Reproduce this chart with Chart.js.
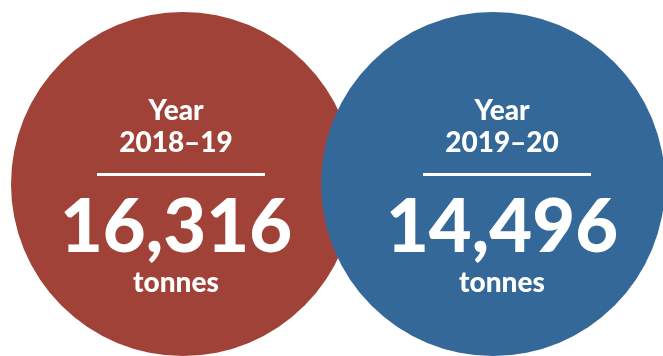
<!DOCTYPE html>
<html><head><meta charset="utf-8">
<script src="https://cdn.jsdelivr.net/npm/chart.js@4.4.1/dist/chart.umd.min.js"></script>
<style>html,body{margin:0;padding:0;background:#fff;overflow:hidden}#wrap{width:663px;height:356px;position:relative}</style>
</head><body><div id="wrap"><canvas id="c"></canvas></div>
<script>
// ---- data ----
const categories = ['Year 2018–19', 'Year 2019–20'];
const headLabels = ['Year', 'Year'];
const yearLabels = ['2018–19', '2019–20'];
const tonnes = [16316, 14496];
const unitLabels = ['tonnes', 'tonnes'];
const colors = ['#A04237', '#346898'];

const FONT = 'Lato, "Open Sans", sans-serif';
const textShift = [-7, 9];

const labelPlugin = {
  id: 'circleLabels',
  afterDatasetsDraw(chart) {
    const ctx = chart.ctx;
    chart.data.datasets.forEach((ds, i) => {
      const el = chart.getDatasetMeta(i).data[0];
      if (!el) return;
      const cx = el.x + textShift[i];
      const cy = el.y;
      ctx.save();
      ctx.fillStyle = '#ffffff';
      ctx.textAlign = 'center';
      ctx.textBaseline = 'alphabetic';
      ctx.font = '900 28px ' + FONT;
      ctx.fillText(headLabels[i], cx, cy - 64);
      ctx.fillText(yearLabels[i], cx, cy - 32);
      ctx.fillRect(cx + 5 - 84, cy - 11, 168, 3);
      ctx.font = '900 74px ' + FONT;
      ctx.fillText(tonnes[i].toLocaleString('en-US'), cx, cy + 68);
      ctx.font = '900 28px ' + FONT;
      ctx.fillText(unitLabels[i], cx, cy + 108);
      ctx.restore();
    });
  }
};

new Chart(document.getElementById('c'), {
  type: 'scatter',
  data: {
    datasets: categories.map((c, i) => ({
      label: c,
      data: [{ x: i, y: 0 }],
      backgroundColor: colors[i],
      borderWidth: 0,
      pointRadius: 172,
      pointHoverRadius: 172,
      clip: false,
      order: categories.length - i
    }))
  },
  options: {
    responsive: true,
    maintainAspectRatio: false,
    devicePixelRatio: 1,
    animation: false,
    events: [],
    layout: { padding: 0, autoPadding: false },
    plugins: { legend: { display: false }, tooltip: { enabled: false } },
    scales: {
      x: { type: 'linear', display: false, min: -183 / 310, max: 480 / 310 },
      y: { type: 'linear', display: false, min: -172 / 178, max: 184 / 178 }
    }
  },
  plugins: [labelPlugin]
});
</script>
</body></html>
